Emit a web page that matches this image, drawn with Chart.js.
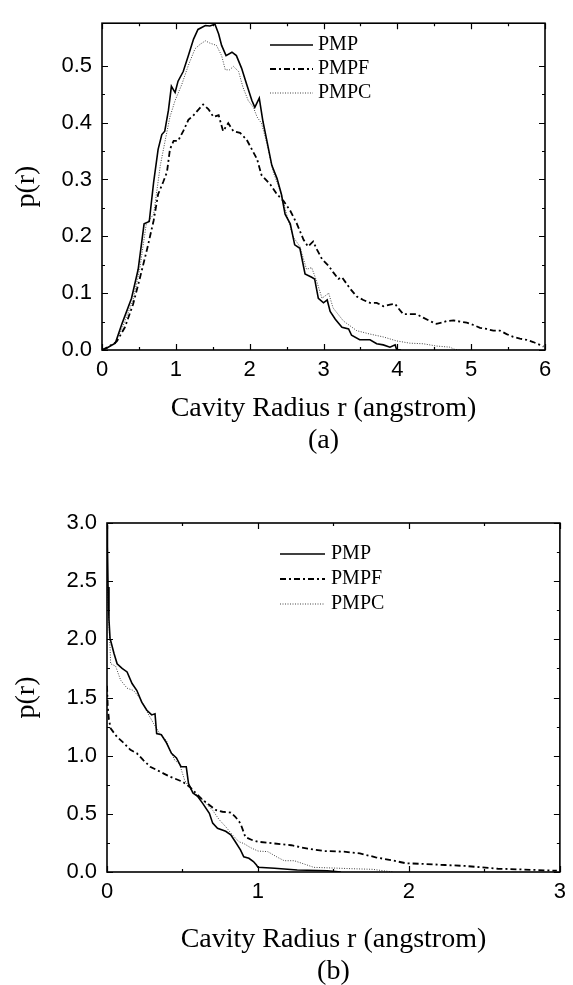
<!DOCTYPE html>
<html>
<head>
<meta charset="utf-8">
<script src="https://cdn.jsdelivr.net/npm/chart.js@4.4.1/dist/chart.umd.min.js"></script>
<style>
  html, body { margin: 0; padding: 0; background: #fff; }
  #wrapA { position: absolute; left: 0; top: 0; width: 573px; height: 460px; }
  #wrapB { position: absolute; left: 0; top: 470px; width: 573px; height: 515px; }
</style>
</head>
<body>
<div id="wrapA"><canvas id="chartA" width="573" height="460"></canvas></div>
<div id="wrapB"><canvas id="chartB" width="573" height="515"></canvas></div>
<script>
// ---------- Data: panel (a) ----------
const seriesNames = ['PMP', 'PMPF', 'PMPC'];

const xA_PMP = [0, 0.06, 0.18, 0.27, 0.40, 0.49, 0.57, 0.64, 0.70, 0.76, 0.81, 0.85, 0.90, 0.94, 0.99, 1.03, 1.10, 1.17, 1.24, 1.30, 1.40, 1.46, 1.53, 1.58, 1.62, 1.68, 1.76, 1.82, 1.89, 1.96, 2.03, 2.07, 2.13, 2.18, 2.23, 2.30, 2.37, 2.43, 2.48, 2.55, 2.61, 2.68, 2.75, 2.84, 2.88, 2.93, 3.00, 3.05, 3.09, 3.16, 3.25, 3.34, 3.38, 3.49, 3.63, 3.72, 3.81, 3.90, 3.97, 3.99, 4.05];
const yA_PMP = [0, 0.003, 0.012, 0.046, 0.091, 0.142, 0.222, 0.226, 0.296, 0.353, 0.379, 0.385, 0.422, 0.464, 0.453, 0.473, 0.490, 0.518, 0.547, 0.564, 0.571, 0.570, 0.573, 0.556, 0.536, 0.518, 0.524, 0.518, 0.496, 0.467, 0.439, 0.427, 0.443, 0.402, 0.370, 0.325, 0.302, 0.274, 0.239, 0.222, 0.185, 0.179, 0.134, 0.128, 0.125, 0.091, 0.083, 0.088, 0.068, 0.054, 0.040, 0.037, 0.026, 0.018, 0.018, 0.011, 0.009, 0.005, 0.009, 0.001, 0];

const xA_PMPF = [0, 0.08, 0.20, 0.31, 0.42, 0.51, 0.61, 0.70, 0.76, 0.83, 0.88, 0.92, 0.97, 1.03, 1.10, 1.17, 1.24, 1.30, 1.37, 1.44, 1.51, 1.58, 1.64, 1.71, 1.78, 1.87, 1.96, 2.05, 2.10, 2.16, 2.28, 2.37, 2.46, 2.55, 2.64, 2.73, 2.79, 2.86, 2.91, 2.98, 3.07, 3.13, 3.20, 3.25, 3.36, 3.45, 3.54, 3.63, 3.72, 3.81, 3.90, 3.97, 4.01, 4.08, 4.17, 4.26, 4.35, 4.44, 4.53, 4.60, 4.67, 4.76, 4.85, 4.94, 5.03, 5.12, 5.21, 5.30, 5.39, 5.48, 5.57, 5.66, 5.75, 5.84, 5.93, 5.98];
const yA_PMPF = [0, 0.005, 0.015, 0.040, 0.080, 0.125, 0.177, 0.228, 0.274, 0.296, 0.313, 0.353, 0.368, 0.368, 0.385, 0.405, 0.413, 0.422, 0.432, 0.424, 0.410, 0.413, 0.385, 0.399, 0.385, 0.382, 0.370, 0.348, 0.336, 0.308, 0.291, 0.274, 0.262, 0.245, 0.222, 0.194, 0.182, 0.191, 0.177, 0.160, 0.148, 0.137, 0.125, 0.128, 0.108, 0.094, 0.088, 0.083, 0.083, 0.077, 0.080, 0.081, 0.074, 0.063, 0.063, 0.063, 0.057, 0.051, 0.046, 0.048, 0.051, 0.052, 0.050, 0.048, 0.044, 0.039, 0.037, 0.034, 0.034, 0.028, 0.023, 0.020, 0.018, 0.014, 0.009, 0.006];

const xA_PMPC = [0, 0.06, 0.18, 0.29, 0.42, 0.51, 0.60, 0.70, 0.79, 0.85, 0.92, 0.99, 1.08, 1.17, 1.26, 1.33, 1.40, 1.46, 1.55, 1.62, 1.67, 1.73, 1.78, 1.85, 1.91, 1.98, 2.05, 2.10, 2.16, 2.23, 2.32, 2.43, 2.50, 2.59, 2.68, 2.77, 2.84, 2.91, 2.98, 3.07, 3.13, 3.27, 3.45, 3.63, 3.81, 3.99, 4.17, 4.35, 4.53, 4.71, 4.78, 4.85];
const yA_PMPC = [0, 0.003, 0.012, 0.044, 0.088, 0.142, 0.222, 0.239, 0.325, 0.365, 0.410, 0.439, 0.467, 0.501, 0.530, 0.538, 0.544, 0.540, 0.536, 0.518, 0.493, 0.493, 0.499, 0.490, 0.462, 0.439, 0.427, 0.410, 0.399, 0.365, 0.313, 0.274, 0.239, 0.199, 0.182, 0.142, 0.145, 0.120, 0.091, 0.100, 0.074, 0.051, 0.034, 0.028, 0.023, 0.016, 0.012, 0.011, 0.007, 0.005, 0.001, 0];

const xTicksA = [0, 1, 2, 3, 4, 5, 6];
const yTicksA = [0, 0.1, 0.2, 0.3, 0.4, 0.5];

// ---------- Data: panel (b) ----------
const xB_PMP = [0, 0.003, 0.007, 0.013, 0.02, 0.046, 0.067, 0.10, 0.133, 0.166, 0.198, 0.23, 0.264, 0.296, 0.318, 0.329, 0.36, 0.394, 0.427, 0.46, 0.49, 0.525, 0.54, 0.569, 0.60, 0.634, 0.678, 0.70, 0.732, 0.786, 0.82, 0.85, 0.884, 0.906, 0.94, 0.97, 0.99, 1.0, 1.11, 1.26, 1.46, 1.55];
const yB_PMP = [2.98, 2.8, 2.45, 2.17, 2.01, 1.88, 1.79, 1.75, 1.72, 1.62, 1.56, 1.46, 1.39, 1.35, 1.36, 1.19, 1.18, 1.11, 1.02, 0.98, 0.905, 0.905, 0.76, 0.68, 0.65, 0.59, 0.505, 0.42, 0.375, 0.35, 0.32, 0.26, 0.19, 0.13, 0.118, 0.09, 0.06, 0.04, 0.032, 0.017, 0.011, 0];

const xB_PMPF = [0, 0.005, 0.013, 0.024, 0.067, 0.11, 0.155, 0.198, 0.242, 0.286, 0.329, 0.373, 0.416, 0.46, 0.50, 0.547, 0.59, 0.634, 0.678, 0.72, 0.765, 0.82, 0.85, 0.884, 0.917, 0.96, 1.0, 1.11, 1.22, 1.33, 1.44, 1.57, 1.675, 1.78, 1.89, 1.98, 2.11, 2.24, 2.37, 2.48, 2.59, 2.72, 2.85, 2.98];
const yB_PMPF = [1.6, 1.42, 1.31, 1.235, 1.16, 1.11, 1.05, 1.02, 0.96, 0.905, 0.877, 0.848, 0.82, 0.797, 0.776, 0.733, 0.676, 0.62, 0.576, 0.533, 0.518, 0.51, 0.475, 0.418, 0.30, 0.275, 0.26, 0.245, 0.23, 0.20, 0.18, 0.175, 0.16, 0.126, 0.10, 0.075, 0.069, 0.06, 0.052, 0.04, 0.028, 0.023, 0.017, 0.011];

const xB_PMPC = [0, 0.003, 0.007, 0.02, 0.024, 0.057, 0.09, 0.133, 0.176, 0.22, 0.264, 0.307, 0.35, 0.394, 0.416, 0.449, 0.48, 0.514, 0.558, 0.61, 0.656, 0.70, 0.743, 0.786, 0.83, 0.874, 0.906, 0.95, 1.0, 1.065, 1.13, 1.174, 1.24, 1.305, 1.37, 1.50, 1.63, 1.76, 1.83, 1.9];
const yB_PMPC = [2.6, 2.5, 2.31, 1.94, 1.79, 1.77, 1.65, 1.58, 1.56, 1.49, 1.38, 1.28, 1.19, 1.13, 1.05, 0.96, 0.93, 0.79, 0.70, 0.65, 0.59, 0.53, 0.45, 0.39, 0.32, 0.26, 0.245, 0.21, 0.18, 0.175, 0.126, 0.097, 0.097, 0.069, 0.04, 0.034, 0.028, 0.023, 0.011, 0];

const xTicksB = [0, 1, 2, 3];
const yTicksB = [0, 0.5, 1.0, 1.5, 2.0, 2.5, 3.0];

const xTitle = 'Cavity Radius r (angstrom)';
const yTitle = 'p(r)';

// ---------- helpers ----------
function pts(xs, ys) { return xs.map((x, i) => ({ x: x, y: ys[i] })); }

const lineStyles = [
  { borderColor: '#000', borderWidth: 1.6, borderDash: [] },
  { borderColor: '#000', borderWidth: 1.8, borderDash: [6, 3, 2, 3] },
  { borderColor: '#444', borderWidth: 1, borderDash: [1, 1.5] }
];

function makeDatasets(list) {
  return list.map((d, i) => Object.assign({
    label: seriesNames[i],
    data: pts(d[0], d[1]),
    pointRadius: 0,
    tension: 0,
    fill: false
  }, lineStyles[i]));
}

// frame + inward ticks on all four sides
const frameTicks = {
  id: 'frameTicks',
  afterDatasetsDraw(chart, args, opts) {
    const { ctx, chartArea: a, scales } = chart;
    const sx = scales.x, sy = scales.y;
    ctx.save();
    ctx.strokeStyle = '#000';
    ctx.setLineDash([]);
    ctx.lineWidth = 1.2;
    const majL = opts.major, minL = opts.minor;
    const draw = (scale, horiz) => {
      const vals = scale.ticks.map(t => t.value);
      const all = [];
      vals.forEach((v, i) => {
        all.push([v, majL]);
        if (i < vals.length - 1) all.push([(v + vals[i + 1]) / 2, minL]);
      });
      all.forEach(([v, L]) => {
        const p = Math.round(scale.getPixelForValue(v)) + 0.5;
        ctx.beginPath();
        if (horiz) {
          ctx.moveTo(p, a.bottom); ctx.lineTo(p, a.bottom - L);
          ctx.moveTo(p, a.top); ctx.lineTo(p, a.top + L);
        } else {
          ctx.moveTo(a.left, p); ctx.lineTo(a.left + L, p);
          ctx.moveTo(a.right, p); ctx.lineTo(a.right - L, p);
        }
        ctx.stroke();
      });
    };
    draw(sx, true);
    draw(sy, false);
    ctx.lineWidth = 1.6;
    ctx.strokeRect(a.left, a.top, a.right - a.left, a.bottom - a.top);
    ctx.restore();
  }
};

// in-plot legend drawn from the dataset styles
const innerLegend = {
  id: 'innerLegend',
  afterDraw(chart, args, opts) {
    const { ctx } = chart;
    ctx.save();
    chart.data.datasets.forEach((ds, i) => {
      const yy = opts.y + i * opts.gap;
      ctx.strokeStyle = ds.borderColor;
      ctx.lineWidth = ds.borderWidth;
      ctx.setLineDash(ds.borderDash || []);
      ctx.beginPath();
      ctx.moveTo(opts.x, yy);
      ctx.lineTo(opts.x + opts.len, yy);
      ctx.stroke();
      ctx.setLineDash([]);
      ctx.fillStyle = '#000';
      ctx.font = opts.font;
      ctx.textBaseline = 'middle';
      ctx.textAlign = 'left';
      ctx.fillText(ds.label, opts.x + opts.len + opts.pad, yy);
    });
    ctx.restore();
  }
};

const tickFont = { family: '"Liberation Sans", Arial, sans-serif', size: 22 };
const titleFont = { family: '"Liberation Serif", "Times New Roman", serif', size: 28, lineHeight: 1.16 };

function makeChart(id, datasets, cfg) {
  return new Chart(document.getElementById(id), {
    type: 'line',
    data: { datasets: datasets },
    plugins: [frameTicks, innerLegend],
    options: {
      responsive: false,
      animation: false,
      devicePixelRatio: 1,
      layout: { padding: { top: cfg.padTop, right: cfg.padRight, left: 0, bottom: 0 } },
      plugins: {
        legend: { display: false },
        tooltip: { enabled: false },
        frameTicks: { major: 6, minor: 3 },
        innerLegend: cfg.legend
      },
      scales: {
        x: {
          type: 'linear',
          min: cfg.xTicks[0],
          max: cfg.xTicks[cfg.xTicks.length - 1],
          afterBuildTicks: s => { s.ticks = cfg.xTicks.map(v => ({ value: v })); },
          afterFit: s => { s.height = cfg.xAxisH; },
          grid: { display: false, drawTicks: false },
          border: { display: false },
          ticks: {
            autoSkip: false, maxRotation: 0, padding: 7, color: '#000', font: tickFont,
            callback: v => String(v)
          },
          title: {
            display: true, text: [xTitle, cfg.panel], color: '#000', font: titleFont,
            padding: { top: 0, bottom: cfg.titlePadB }
          }
        },
        y: {
          type: 'linear',
          min: cfg.yTicks[0],
          max: cfg.yMax,
          afterBuildTicks: s => { s.ticks = cfg.yTicks.map(v => ({ value: v })); },
          afterFit: s => { s.width = cfg.yAxisW; },
          grid: { display: false, drawTicks: false },
          border: { display: false },
          ticks: {
            autoSkip: false, padding: 10, color: '#000', font: tickFont,
            callback: v => v.toFixed(1)
          },
          title: {
            display: true, text: yTitle, color: '#000',
            font: { family: titleFont.family, size: 28, lineHeight: 1.1 },
            padding: { top: 11, bottom: 0 }
          }
        }
      }
    }
  });
}

makeChart('chartA',
  makeDatasets([[xA_PMP, yA_PMP], [xA_PMPF, yA_PMPF], [xA_PMPC, yA_PMPC]]),
  {
    padTop: 14, padRight: 28, xAxisH: 110, yAxisW: 102, yMax: 0.575,
    xTicks: xTicksA, yTicks: yTicksA, panel: '(a)', titlePadB: 3,
    legend: { x: 270, y: 45, gap: 24, len: 43, pad: 5, font: '20px "Liberation Serif", "Times New Roman", serif' }
  });

makeChart('chartB',
  makeDatasets([[xB_PMP, yB_PMP], [xB_PMPF, yB_PMPF], [xB_PMPC, yB_PMPC]]),
  {
    padTop: 53, padRight: 7, xAxisH: 113, yAxisW: 107, yMax: 3.0,
    xTicks: xTicksB, yTicks: yTicksB, panel: '(b)', titlePadB: -3,
    legend: { x: 280, y: 84, gap: 25, len: 45, pad: 6, font: '20px "Liberation Serif", "Times New Roman", serif' }
  });
</script>
</body>
</html>
